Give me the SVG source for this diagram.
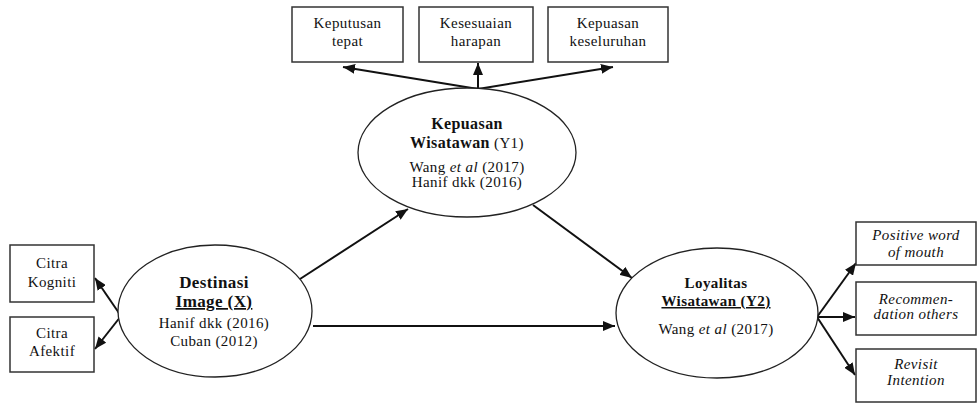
<svg xmlns="http://www.w3.org/2000/svg" width="977" height="403" viewBox="0 0 977 403">
<defs>
<style>
.box{fill:#fff;stroke:#333;stroke-width:1.5}
.ell{fill:#fff;stroke:#222;stroke-width:1.3}
text{font-family:'Liberation Serif','DejaVu Serif',serif;font-size:15px;fill:#111;text-anchor:middle;letter-spacing:0.4px}
.b{font-weight:bold}
.i{font-style:italic}
.u{text-decoration:underline}
.arr{fill:none;stroke:#111;stroke-width:2;marker-end:url(#ah)}
</style>
<marker id="ah" markerUnits="userSpaceOnUse" markerWidth="12" markerHeight="10" viewBox="0 0 12 10" refX="12" refY="5" orient="auto">
<path d="M0,0 L12,5 L0,10 z" fill="#111"/>
</marker>
</defs>
<rect width="977" height="403" fill="#fff"/>
<g id="connectors">
<path class="arr" d="M478,89 L343,67"/>
<path class="arr" d="M478,89 L478,63"/>
<path class="arr" d="M478,89 L613,67"/>
<path class="arr" d="M300,279 L408,209"/>
<path class="arr" d="M533,205 L632,278"/>
<path class="arr" d="M313,326 L615,326"/>
<path class="arr" d="M121,316 L95,278"/>
<path class="arr" d="M121,316 L95,349"/>
<path class="arr" d="M817,317 L856,263"/>
<path class="arr" d="M817,317 L855,317"/>
<path class="arr" d="M817,317 L855,375"/>
</g>
<g id="keputusan-tepat" font-family="Liberation Serif, serif">
<rect class="box" x="292" y="7" width="111" height="55"/>
<text x="347.5" y="28">Keputusan</text>
<text x="347.5" y="46">tepat</text>
</g>
<g id="kesesuaian-harapan">
<rect class="box" x="419" y="7" width="114" height="55"/>
<text x="476" y="28">Kesesuaian</text>
<text x="476" y="46">harapan</text>
</g>
<g id="kepuasan-keseluruhan">
<rect class="box" x="548" y="7" width="120" height="55"/>
<text x="608" y="28">Kepuasan</text>
<text x="608" y="46">keseluruhan</text>
</g>
<g id="kepuasan-wisatawan">
<ellipse class="ell" cx="467" cy="152.5" rx="109" ry="64.5"/>
<text class="b" x="467" y="129" style="font-size:16px">Kepuasan</text>
<text x="467" y="148"><tspan class="b" style="font-size:16px">Wisatawan</tspan> (Y1)</text>
<text x="467" y="172">Wang <tspan class="i">et al</tspan> (2017)</text>
<text x="467" y="187">Hanif dkk (2016)</text>
</g>
<g id="citra-kogniti">
<rect class="box" x="10" y="245" width="84" height="57"/>
<text x="52" y="268">Citra</text>
<text x="52" y="287">Kogniti</text>
</g>
<g id="citra-afektif">
<rect class="box" x="10" y="317" width="84" height="55"/>
<text x="52" y="338">Citra</text>
<text x="52" y="356">Afektif</text>
</g>
<g id="destinasi-image">
<ellipse class="ell" cx="215" cy="311" rx="97" ry="66"/>
<text class="b" x="214" y="288" style="font-size:17px">Destinasi</text>
<text class="b u" x="214" y="307" style="font-size:17px">Image (X)</text>
<text x="214" y="328">Hanif dkk (2016)</text>
<text x="214" y="346">Cuban (2012)</text>
</g>
<g id="loyalitas-wisatawan">
<ellipse class="ell" cx="717" cy="313" rx="101" ry="65"/>
<text class="b" x="716" y="288">Loyalitas</text>
<text class="b u" x="716" y="306">Wisatawan (Y2)</text>
<text x="716" y="334">Wang <tspan class="i">et al</tspan> (2017)</text>
</g>
<g id="positive-word">
<rect class="box" x="856" y="222" width="120" height="43"/>
<text class="i" x="916" y="240">Positive word</text>
<text class="i" x="916" y="257">of mouth</text>
</g>
<g id="recommendation">
<rect class="box" x="856" y="282" width="120" height="53"/>
<text class="i" x="916" y="304">Recommen-</text>
<text class="i" x="916" y="319">dation others</text>
</g>
<g id="revisit-intention">
<rect class="box" x="856" y="349" width="120" height="53"/>
<text class="i" x="916" y="369">Revisit</text>
<text class="i" x="916" y="385">Intention</text>
</g>
</svg>
